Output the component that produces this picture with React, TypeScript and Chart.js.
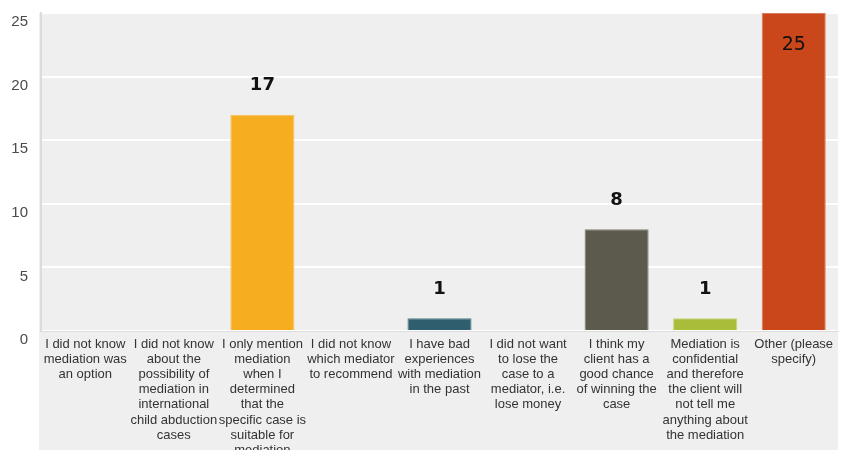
import React, { useEffect, useRef } from "react";
import { Chart, registerables } from "chart.js";

Chart.register(...registerables);

const categories: string[][] = [
  ["I did not know", "mediation was", "an option"],
  ["I did not know", "about the", "possibility of", "mediation in", "international", "child abduction", "cases"],
  ["I only mention", "mediation", "when I", "determined", "that the", "specific case is", "suitable for", "mediation"],
  ["I did not know", "which mediator", "to recommend"],
  ["I have bad", "experiences", "with mediation", "in the past"],
  ["I did not want", "to lose the", "case to a", "mediator, i.e.", "lose money"],
  ["I think my", "client has a", "good chance", "of winning the", "case"],
  ["Mediation is", "confidential", "and therefore", "the client will", "not tell me", "anything about", "the mediation"],
  ["Other (please", "specify)"],
];
const values: number[] = [0, 0, 17, 0, 1, 0, 8, 1, 25];
const barColors: string[] = [
  "#f6ae20", "#f6ae20", "#f6ae20", "#2f5f6e", "#2f5f6e", "#5c5a4c", "#5c5a4c", "#a9bd3a", "#c9471b",
];
const barBorders: string[] = [
  "#f8c060", "#f8c060", "#f8c060", "#5a808c", "#5a808c", "#858374", "#858374", "#c3d36e", "#dc7d5c",
];
const yTicks: number[] = [0, 5, 10, 15, 20, 25];

const bgPlugin = {
  id: "bgPlugin",
  beforeDraw(chart: any) {
    const { ctx, chartArea } = chart;
    ctx.save();
    ctx.fillStyle = "#efefef";
    ctx.fillRect(39, chartArea.top, chartArea.right - 39, chart.height - chartArea.top);
    ctx.restore();
  },
};

const valuePlugin = {
  id: "valuePlugin",
  afterDatasetsDraw(chart: any) {
    const { ctx, chartArea } = chart;
    const meta = chart.getDatasetMeta(0);
    ctx.save();
    ctx.textAlign = "center";
    ctx.textBaseline = "middle";
    ctx.fillStyle = "#111";
    meta.data.forEach((bar: any, i: number) => {
      const v = values[i];
      if (!v) return;
      let y = bar.y - 29;
      if (y < chartArea.top + 12) {
        y = bar.y + 32;
        ctx.font = "19px 'DejaVu Sans'";
      } else {
        ctx.font = "bold 18px 'DejaVu Sans'";
      }
      ctx.fillText(String(v), bar.x, y);
    });
    ctx.restore();
  },
};

export default function App() {
  const ref = useRef<HTMLCanvasElement>(null);
  useEffect(() => {
    if (!ref.current) return;
    const chart = new Chart(ref.current, {
      type: "bar",
      data: {
        labels: categories,
        datasets: [
          {
            data: values,
            backgroundColor: barColors,
            borderColor: barBorders,
            borderWidth: 1,
            barPercentage: 0.724,
            categoryPercentage: 1,
          },
        ],
      },
      options: {
        animation: false,
        responsive: false,
        maintainAspectRatio: false,
        layout: { padding: { top: 11, right: 4, left: 0, bottom: 0 } },
        plugins: { legend: { display: false }, tooltip: { enabled: false } },
        scales: {
          x: {
            grid: { display: false, drawTicks: false },
            border: { display: true, color: "#dcdcdc", width: 1 },
            ticks: {
              autoSkip: false,
              maxRotation: 0,
              minRotation: 0,
              padding: 6,
              color: "#333",
              font: { family: "'Liberation Sans', Arial, sans-serif", size: 13, lineHeight: 1.16 },
            },
            afterFit(scale: any) {
              scale.height = 119;
            },
          },
          y: {
            min: 0,
            max: 25,
            afterBuildTicks(scale: any) {
              scale.ticks = yTicks.map((v) => ({ value: v }));
            },
            grid: { color: "#ffffff", lineWidth: 2, drawTicks: false },
            border: { display: true, color: "#dcdcdc", width: 2 },
            ticks: {
              padding: 13,
              labelOffset: 9,
              color: "#4a4a4a",
              font: { family: "'Liberation Sans', Arial, sans-serif", size: 15, lineHeight: 0.01 },
            },
            afterFit(scale: any) {
              scale.width = 41;
            },
          },
        },
      },
      plugins: [bgPlugin, valuePlugin],
    });
    return () => chart.destroy();
  }, []);
  return (
    <div style={{ position: "fixed", left: 0, top: 0, width: 842, height: 450, background: "#fff" }}>
      <canvas ref={ref} width={842} height={450} style={{ width: 842, height: 450, display: "block" }} />
    </div>
  );
}
